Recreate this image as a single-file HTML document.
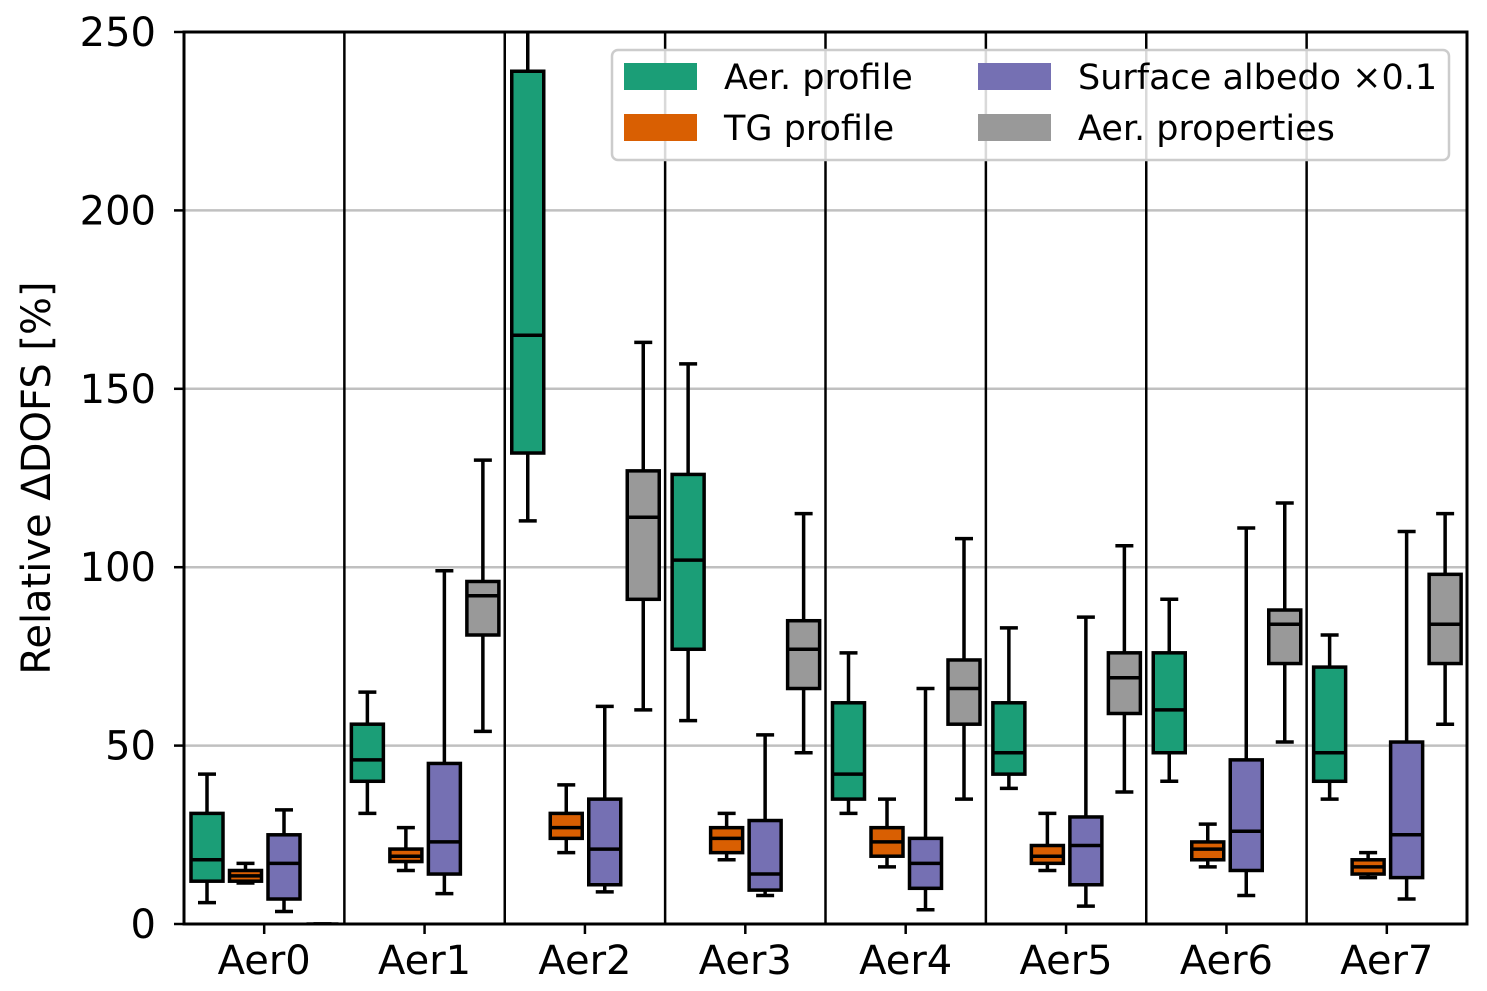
<!DOCTYPE html>
<html><head><meta charset="utf-8"><style>
html,body{margin:0;padding:0;background:#fff;}
svg{display:block;font-family:"DejaVu Sans","Liberation Sans",sans-serif;}
</style></head><body>
<svg id="chart" width="1487" height="991"></svg>
<script>
const categories=["Aer0","Aer1","Aer2","Aer3","Aer4","Aer5","Aer6","Aer7"];
const seriesNames=["Aer. profile","TG profile","Surface albedo ×0.1","Aer. properties"];
const seriesColors=["#1b9e77","#d95f02","#7570b3","#999999"];
// [low, q1, median, q3, high] per category
const aerProfile=[[6,12,18,31,42],[31,40,46,56,65],[113,132,165,239,260],[57,77,102,126,157],[31,35,42,62,76],[38,42,48,62,83],[40,48,60,76,91],[35,40,48,72,81]];
const tgProfile=[[11.5,12,13.5,15,17],[15,17.5,19,21,27],[20,24,27,31,39],[18,20,24,27,31],[16,19,23,27,35],[15,17,19,22,31],[16,18,21,23,28],[13,14,16,18,20]];
const surfAlbedo=[[3.5,7,17,25,32],[8.5,14,23,45,99],[9,11,21,35,61],[8,9.5,14,29,53],[4,10,17,24,66],[5,11,22,30,86],[8,15,26,46,111],[7,13,25,51,110]];
const aerProps=[[0,0,0,0,0],[54,81,92,96,130],[60,91,114,127,163],[48,66,77,85,115],[35,56,66,74,108],[37,59,69,76,106],[51,73,84,88,118],[56,73,84,98,115]];
const yTicks=[0,50,100,150,200,250];

const NS="http://www.w3.org/2000/svg";
const svg=document.getElementById('chart');
const L=184,R=1467,T=32,B=924;
const y=v=>B-(v/250)*(B-T);
const gw=(R-L)/categories.length;
const xc=(g,s)=>L+g*gw+23+s*38.5;
function el(tag,attrs,parent){const e=document.createElementNS(NS,tag);for(const k in attrs)e.setAttribute(k,attrs[k]);(parent||svg).appendChild(e);return e;}
const clip=el('clipPath',{id:'pc'});el('rect',{x:L,y:T,width:R-L,height:B-T},clip);
yTicks.forEach(t=>{
  if(t>0&&t<250){const g=el('line',{x1:L,x2:R,y1:y(t),y2:y(t),stroke:'#c0c0c0','stroke-width':2.5});
  
  }
  const tk=el('line',{x1:L-10,x2:L,y1:y(t),y2:y(t),stroke:'#000','stroke-width':2.5});
  
  
  const tx=el('text',{x:L-28,y:y(t)+14,'text-anchor':'end','font-size':40});
  tx.textContent=t;
  
  
});
for(let i=1;i<categories.length;i++){
  const s=el('line',{x1:L+i*gw,x2:L+i*gw,y1:T,y2:B,stroke:'#000','stroke-width':2.5});
  
  
}
const series=[aerProfile,tgProfile,surfAlbedo,aerProps];
const gClip=el('g',{'clip-path':'url(#pc)'});
categories.forEach((c,g)=>{
  series.forEach((d,s)=>{
    const v=d[g],cx=xc(g,s),hw=16,cw=9;
    const grp=el('g',{},gClip);
    
    
    el('line',{x1:cx,x2:cx,y1:y(v[0]),y2:y(v[1]),stroke:'#000','stroke-width':3.5},grp);
    el('line',{x1:cx,x2:cx,y1:y(v[3]),y2:y(v[4]),stroke:'#000','stroke-width':3.5},grp);
    el('line',{x1:cx-cw,x2:cx+cw,y1:y(v[0]),y2:y(v[0]),stroke:'#000','stroke-width':3.5},grp);
    el('line',{x1:cx-cw,x2:cx+cw,y1:y(v[4]),y2:y(v[4]),stroke:'#000','stroke-width':3.5},grp);
    el('rect',{x:cx-hw,y:y(v[3]),width:hw*2,height:Math.max(0,y(v[1])-y(v[3])),fill:seriesColors[s],stroke:'#000','stroke-width':3.5},grp);
    el('line',{x1:cx-hw,x2:cx+hw,y1:y(v[2]),y2:y(v[2]),stroke:'#000','stroke-width':3.5},grp);
  });
  const tk=el('line',{x1:L+(g+0.5)*gw,x2:L+(g+0.5)*gw,y1:B,y2:B+10,stroke:'#000','stroke-width':2.5});
  
  
  const tx=el('text',{x:L+(g+0.5)*gw,y:B+50,'text-anchor':'middle','font-size':40});
  tx.textContent=c;
  
  
});
const frame=el('rect',{x:L,y:T,width:R-L,height:B-T,fill:'none',stroke:'#000','stroke-width':3});


const yl=el('text',{x:0,y:0,transform:'translate(50,478) rotate(-90)','text-anchor':'middle','font-size':40});
yl.textContent='Relative ΔDOFS [%]';


const lg=el('g',{});


el('rect',{x:612,y:50,width:837,height:110,rx:6,fill:'#fff','fill-opacity':0.85,stroke:'#ccc','stroke-width':2.5},lg);
const pos=[[624,77],[624,128],[978,77],[978,128]];
seriesNames.forEach((n,i)=>{
  const e=el('g',{},lg);
  
  
  el('rect',{x:pos[i][0],y:pos[i][1]-14,width:73,height:27,fill:seriesColors[i]},e);
  const t=el('text',{x:pos[i][0]+100,y:pos[i][1]+12,'font-size':35},e);
  t.textContent=n;
});
</script>
</body></html>
